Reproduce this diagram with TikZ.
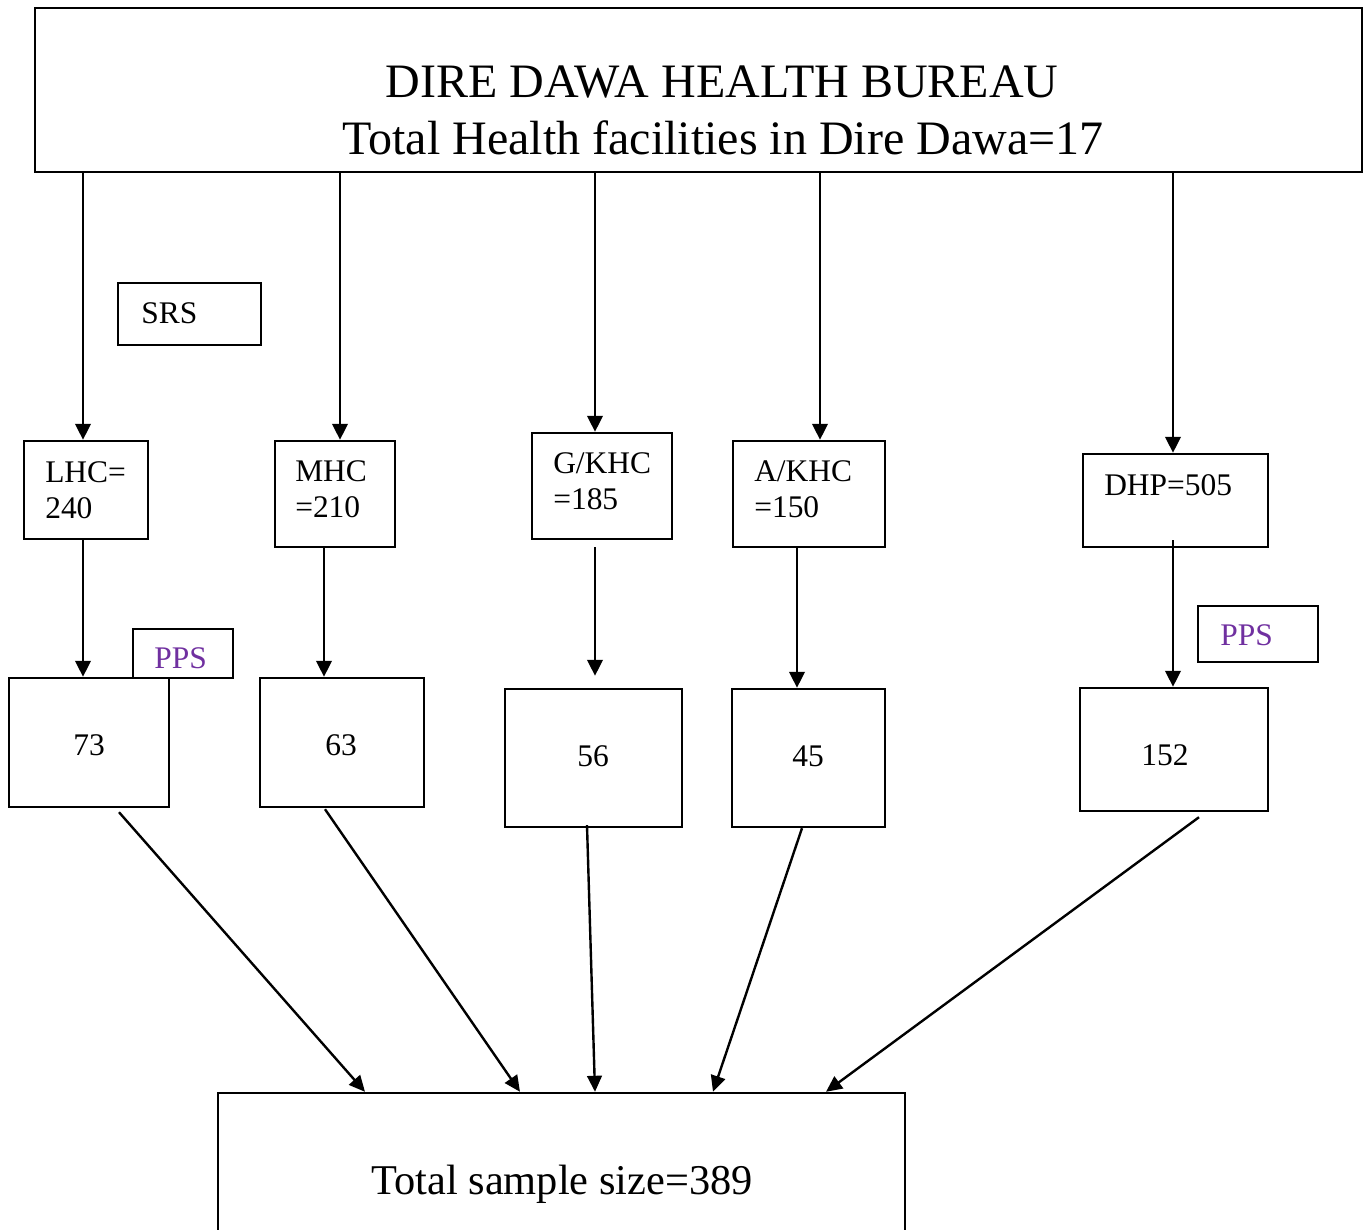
\documentclass[tikz,border=0pt]{standalone}
\usepackage{fontspec}
\setmainfont{Liberation Serif}
\usetikzlibrary{arrows.meta,calc,fit}
\definecolor{ppspurple}{RGB}{112,48,160}
\tikzset{
  box/.style={draw, line width=1.8pt, inner sep=0pt},
  txt/.style={inner sep=0pt, font=\fontsize{23.6}{27}\selectfont, align=left},
  bigtxt/.style={inner sep=0pt, font=\fontsize{36}{42.75}\selectfont},
  midtxt/.style={inner sep=0pt, font=\fontsize{31.8}{38}\selectfont},
  arr/.style={-{Triangle[length=12pt,width=11.5pt]}, line width=2.2pt},
  darr/.style={-{Triangle[length=12pt,width=11pt]}, line width=1.8pt},
}
\begin{document}
\begin{tikzpicture}[x=0.75pt,y=0.75pt,yscale=-1,xscale=1]
	\useasboundingbox (0,0) rectangle (1364,1230);

	% Text Node
	\node [box, fit={(35,8) (1362,172)}] (bureau) {};
	\node [bigtxt, anchor=base] (bureaua) at (722,98) {DIRE DAWA HEALTH BUREAU};
	\node [bigtxt, anchor=base] (bureaub) at (723,155) {Total Health facilities in Dire Dawa=17};
	% Text Node
	\node [box, fit={(118,283) (261,345)}] (srs) {};
	\node [txt, anchor=base west] (srstxt) at (141,324) {SRS};
	% Text Node
	\node [box, fit={(24,441) (148,539)}] (lhc) {};
	\node [txt, anchor=north west] (lhctxt) at (45,461) {LHC=\\240};
	% Text Node
	\node [box, fit={(275,441) (395,547)}] (mhc) {};
	\node [txt, anchor=north west] (mhctxt) at (295,460) {MHC\\=210};
	% Text Node
	\node [box, fit={(532,433) (672,539)}] (gkhc) {};
	\node [txt, anchor=north west] (gkhctxt) at (553,452) {G/KHC\\=185};
	% Text Node
	\node [box, fit={(733,441) (885,547)}] (akhc) {};
	\node [txt, anchor=north west] (akhctxt) at (754,460) {A/KHC\\=150};
	% Text Node
	\node [box, fit={(1083,454) (1268,547)}] (dhp) {};
	\node [txt, anchor=base west] (dhptxt) at (1104,495) {DHP=505};
	% Text Node
	\node [box, fit={(9,678) (169,807)}] (lhcs) {};
	\node [txt, anchor=base] (lhcstxt) at (89,755) {73};
	% Text Node
	\node [box, fit={(133,629) (233,678)}] (ppsa) {};
	\node [txt, anchor=base west, text=ppspurple] (ppsatxt) at (154,668) {PPS};
	% Text Node
	\node [box, fit={(260,678) (424,807)}] (mhcs) {};
	\node [txt, anchor=base] (mhcstxt) at (341,755) {63};
	% Text Node
	\node [box, fit={(505,689) (682,827)}] (gkhcs) {};
	\node [txt, anchor=base] (gkhcstxt) at (593,766) {56};
	% Text Node
	\node [box, fit={(732,689) (885,827)}] (akhcs) {};
	\node [txt, anchor=base] (akhcstxt) at (808,766) {45};
	% Text Node
	\node [box, fit={(1198,606) (1318,662)}] (ppsb) {};
	\node [txt, anchor=base west, text=ppspurple] (ppsbtxt) at (1220,645) {PPS};
	% Text Node
	\node [box, fit={(1080,688) (1268,811)}] (dhps) {};
	\node [txt, anchor=base] (dhpstxt) at (1165,765) {152};
	% Text Node
	\node [box, fit={(218,1093) (905,1250)}] (total) {};
	\node [midtxt, anchor=base] (totaltxt) at (562,1194) {Total sample size=389};

	% Connection
	\draw [arr] ($(lhc.north |- bureau.south)+(-3,0)$) -- ($(lhc.north)+(-3,0)$);
	% Connection
	\draw [arr] ($(mhc.north |- bureau.south)+(5,0)$) -- ($(mhc.north)+(5,0)$);
	% Connection
	\draw [arr] ($(gkhc.north |- bureau.south)+(-7,0)$) -- ($(gkhc.north)+(-7,0)$);
	% Connection
	\draw [arr] ($(akhc.north |- bureau.south)+(11,0)$) -- ($(akhc.north)+(11,0)$);
	% Connection
	\draw [arr] ($(dhp.north |- bureau.south)+(-2.5,0)$) -- ($(dhp.north)+(-2.5,0)$);
	% Connection
	\draw [arr] ($(lhc.south)+(-3,0)$) -- ($(lhc.south |- lhcs.north)+(-3,0)$);
	% Connection
	\draw [arr] ($(mhc.south)+(-11,0)$) -- ($(mhc.south |- mhcs.north)+(-11,0)$);
	% Connection
	\draw [arr] ($(gkhc.south)+(-7,7)$) -- ($(gkhc.south |- gkhcs.north)+(-7,-12)$);
	% Connection
	\draw [arr] ($(akhc.south)+(-12,0)$) -- ($(akhc.south |- akhcs.north)+(-12,0)$);
	% Connection
	\draw [arr] ($(dhp.south)+(-2.5,-8)$) -- ($(dhp.south |- dhps.north)+(-2.5,0)$);
	% Connection
	\draw [darr] ($(lhcs.south)+(30,4)$) -- ($(total.north)+(-196.5,0)$);
	% Connection
	\draw [darr] ($(mhcs.south)+(-17,1)$) -- ($(total.north)+(-41.5,0)$);
	% Connection
	\draw [darr] ($(gkhcs.south)+(-6.5,-3)$) -- ($(total.north)+(33.5,0)$);
	% Connection
	\draw [darr] ($(akhcs.south)+(-6.5,0)$) -- ($(total.north)+(151.5,0)$);
	% Connection
	\draw [darr] ($(dhps.south)+(25,5)$) -- ($(total.north)+(264.5,0)$);

\end{tikzpicture}
\end{document}
